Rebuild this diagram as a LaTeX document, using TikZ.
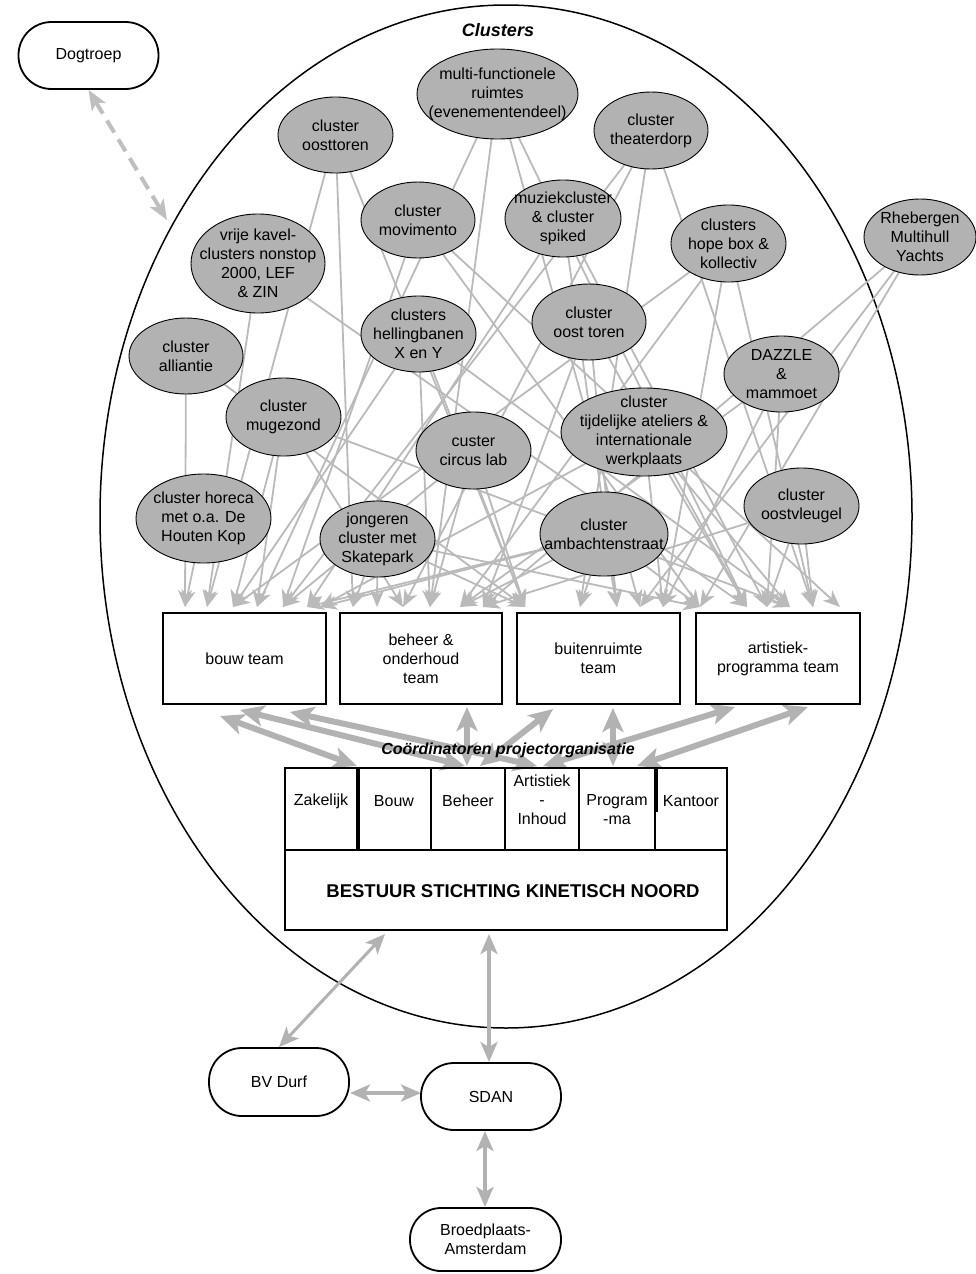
\documentclass[tikz,border=0pt]{standalone}
\usepackage{fontspec}
\setmainfont{Liberation Sans}
\usetikzlibrary{arrows.meta,shapes.geometric}
\pgfdeclarelayer{bg}
\pgfsetlayers{bg,main}
\newcommand\clnode[6]{%
  \node[cl, minimum width=#4pt, minimum height=#5pt] (#1) at (#2,#3) {};
  \node[cltxt] (#1t) at (#1.center) {#6};}
\begin{document}
\begin{tikzpicture}[x=1pt,y=-1pt,
  cl/.style={ellipse, draw=black, line width=0.9pt, fill=black!30, inner sep=0pt},
  cltxt/.style={align=center, inner sep=0pt, font=\fontsize{16}{19}\selectfont},
  team/.style={rectangle, draw=black, line width=2pt, fill=white, minimum height=91pt, align=center, inner sep=0pt, font=\fontsize{16}{19}\selectfont},
  pill/.style={rectangle, rounded corners=33pt, draw=black, line width=1.8pt, fill=white, minimum width=140pt, minimum height=67pt, align=center, inner sep=0pt, font=\fontsize{16}{19}\selectfont},
  cell/.style={rectangle, draw=black, line width=2pt, minimum height=82pt, inner sep=0pt},
  ctext/.style={align=center, inner sep=0pt, font=\fontsize{16}{19}\selectfont},
  title/.style={inner sep=0pt, font=\bfseries\itshape},
  conn/.style={draw=black!27, line width=1.8pt, -{Stealth[length=17pt,width=14pt,inset=5pt]}},
  bigarrow/.style={draw=black!30, line width=6pt, {Stealth[length=24pt,width=21pt,inset=6pt]}-{Stealth[length=24pt,width=21pt,inset=6pt]}},
  midarrow/.style={draw=black!30, line width=3.5pt, {Stealth[length=20pt,width=17pt,inset=5pt]}-{Stealth[length=20pt,width=17pt,inset=5pt]}},
  dasharrow/.style={draw=black!25, line width=4pt, dash pattern=on 14pt off 8pt, {Stealth[length=20pt,width=16pt,inset=5pt]}-{Stealth[length=20pt,width=16pt,inset=5pt]}}
]
\useasboundingbox (0,0) rectangle (976,1274);

% titles
\node[title, font=\fontsize{18}{21}\selectfont\bfseries\itshape] (cltitle) at (498,30) {Clusters};

% clusters
\clnode{multi}{497.5}{94}{161}{90}{multi-functionele\\ruimtes\\(evenementendeel)}
\clnode{oosttoren}{335.5}{135}{115}{76}{cluster\\oosttoren}
\clnode{theater}{651}{130.5}{114}{77}{cluster\\theaterdorp}
\clnode{movim}{418}{220}{114}{76}{cluster\\movimento}
\clnode{muziek}{563}{218.5}{116}{77}{muziekcluster\\\& cluster\\spiked}
\clnode{hope}{728.5}{243.5}{115}{77}{clusters\\hope box \&\\kollectiv}
\clnode{rheb}{920}{237}{112}{76}{Rhebergen\\Multihull\\Yachts}
\clnode{vrije}{258}{263.5}{134}{99}{vrije kavel-\\clusters nonstop\\2000, LEF\\\& ZIN}
\clnode{helling}{418.5}{334}{115}{76}{clusters\\hellingbanen\\X en Y}
\clnode{oosttor2}{589}{322}{114}{76}{cluster\\oost toren}
\clnode{alli}{186}{356}{114}{76}{cluster\\alliantie}
\clnode{muge}{283.5}{417}{115}{78}{cluster\\mugezond}
\clnode{dazzle}{781.5}{374}{115}{76}{DAZZLE\\\&\\mammoet}
\clnode{tijd}{644}{432}{166}{88}{cluster\\tijdelijke ateliers \&\\internationale\\werkplaats}
\clnode{circus}{473.5}{450.5}{115}{77}{custer\\circus lab}
\clnode{oostvl}{801.5}{506}{115}{76}{cluster\\oostvleugel}
\clnode{horeca}{203.5}{518.5}{135}{89}{cluster horeca\\met o.a. De\\Houten Kop}
\clnode{jong}{377.5}{539}{115}{76}{jongeren\\cluster met\\Skatepark}
\clnode{ambacht}{604}{534}{128}{84}{cluster\\ambachtenstraat}

% teams
\node[team, minimum width=163pt] (bouw) at (244.5,658.5) {bouw team};
\node[team, minimum width=162pt] (beheer) at (421,658.5) {beheer \&\\onderhoud\\team};
\node[team, minimum width=163pt] (buiten) at (598.5,658.5) {buitenruimte\\team};
\node[team, minimum width=164pt] (artist) at (778,658.5) {artistiek-\\programma team};

% coordinators
\node[title, font=\fontsize{16}{19}\selectfont\bfseries\itshape] (coordtitle) at (508,750) {Coördinatoren projectorganisatie};
\node[cell, minimum width=72pt] (c1) at (321,809) {};
\node[cell, minimum width=74pt] (c2) at (394,809) {};
\node[cell, minimum width=74pt] (c3) at (468,809) {};
\node[cell, minimum width=74pt] (c4) at (542,809) {};
\node[cell, minimum width=76pt] (c5) at (617,809) {};
\node[cell, minimum width=72pt] (c6) at (691,809) {};
\node[ctext] (c1t) at (321,801) {Zakelijk};
\node[ctext] (c2t) at (394,801) {Bouw};
\node[ctext] (c3t) at (468,801) {Beheer};
\node[ctext] (c4t) at (542,800) {Artistiek\\-\\Inhoud};
\node[ctext] (c5t) at (617,810) {Program\\-ma};
\node[ctext] (c6t) at (691,801) {Kantoor};
\draw[line width=3.5pt] (c1.north east) -- (c1.south east);
\draw[line width=3.5pt] (c5.north east) -- ([yshift=-45pt]c5.north east);
\node[rectangle, draw=black, line width=2pt, minimum width=442pt, minimum height=80pt, inner sep=0pt] (bestuur) at (506,890) {};
\node[inner sep=0pt, font=\fontsize{18.5}{22}\selectfont\bfseries] (bestuurt) at (513,891) {BESTUUR STICHTING KINETISCH NOORD};

% outside partners
\node[pill] (dog) at (88.5,55.5) {Dogtroep};
\node[pill, minimum height=68pt] (bvdurf) at (279,1082) {BV Durf};
\node[pill] (sdan) at (491,1096.5) {SDAN};
\node[pill, minimum width=151pt, minimum height=63pt, rounded corners=31pt] (broed) at (485.5,1239.5) {Broedplaats-\\Amsterdam};

% tips
\foreach \t in {185,207,233,257,283,307,320,353,377,403,430,460,483,525,580,617,640,663,700,747,767,790,813,840}
  \coordinate (t\t) at (\t,607);

\coordinate (dogend) at (167,220);
\coordinate (bvtop) at (385,934);
\coordinate (sdantop) at (489,934);
\coordinate (sdanup) at (489,1062);
\coordinate (bvr) at (350,1093);
\coordinate (sdanl) at (421,1093);
\coordinate (sdandown) at (485,1131);
\coordinate (broedup) at (485,1207);

\foreach \n/\a/\b in {1/{220,716}/{357,766}, 2/{240,710}/{465,766}, 3/{290,712}/{537,766},
  4/{467,707}/{467,766}, 5/{553,709}/{480,766}, 6/{613,708}/{613,766},
  7/{735,707}/{543,766}, 8/{808,707}/{637,766}}{
  \coordinate (up\n) at (\a);
  \coordinate (dn\n) at (\b);
}

\begin{pgfonlayer}{bg}
\draw[line width=1.5pt] (506,516.5) ellipse [x radius=406pt, y radius=511.5pt];
\foreach \s/\t in {alli/185, alli/525, horeca/185,
  oosttoren/207, oosttoren/353, oosttoren/525,
  vrije/207, vrije/747,
  multi/257, multi/430, multi/640, multi/747,
  theater/283, theater/403, theater/580, theater/813,
  muziek/307, muziek/617, muziek/767,
  movim/283, movim/700, movim/840,
  hope/233, hope/460, hope/663, hope/813,
  rheb/483, rheb/640, rheb/700,
  helling/233, helling/430, helling/525, helling/790,
  muge/233, muge/257, muge/403, muge/790,
  circus/283, circus/430, circus/525,
  jong/353, jong/377, jong/525, jong/700,
  ambacht/307, ambacht/320, ambacht/460, ambacht/580, ambacht/617, ambacht/700,
  tijd/320, tijd/663, tijd/747, tijd/790,
  oosttor2/483, oosttor2/617, oosttor2/747,
  dazzle/460, dazzle/663, dazzle/767,
  oostvl/483, oostvl/767, oostvl/813}
  \draw[conn] (\s.center) -- (t\t);
\foreach \n in {1,...,8}
  \draw[bigarrow] (up\n) -- (dn\n);
\draw[dasharrow] (dog.south) -- (dogend);
\draw[midarrow, line width=3pt] (bvdurf.north) -- (bvtop);
\draw[midarrow, line width=4.5pt] (sdanup) -- (sdantop);
\draw[midarrow] (bvr) -- (sdanl);
\draw[midarrow, line width=4.5pt] (sdandown) -- (broedup);
\end{pgfonlayer}
\end{tikzpicture}
\end{document}
